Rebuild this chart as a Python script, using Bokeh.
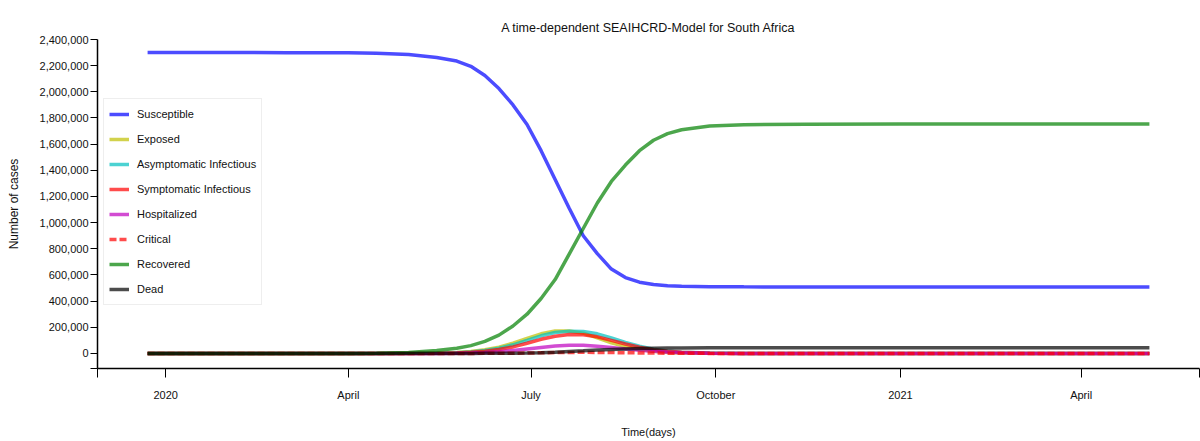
import pandas as pd
from bokeh.plotting import figure
from bokeh.models import Range1d, FixedTicker, NumeralTickFormatter
from bokeh.embed import file_html
from bokeh.resources import INLINE

# model output
dates = [
    "2019-12-23", "2020-02-01", "2020-03-01", "2020-04-01", "2020-04-15",
    "2020-05-01", "2020-05-15", "2020-05-25", "2020-06-01", "2020-06-08",
    "2020-06-15", "2020-06-22", "2020-06-29", "2020-07-06", "2020-07-13",
    "2020-07-20", "2020-07-27", "2020-08-03", "2020-08-10", "2020-08-17",
    "2020-08-24", "2020-08-31", "2020-09-07", "2020-09-14", "2020-09-28",
    "2020-10-15", "2020-11-15", "2021-01-01", "2021-03-01", "2021-05-05",
]
susceptible = [2300000, 2299900, 2299500, 2298000, 2295000, 2285000, 2262000, 2235000, 2195000, 2125000,
               2025000, 1900000, 1750000, 1550000, 1330000, 1110000, 900000, 763000, 645000, 580000,
               545000, 527000, 518000, 513000, 510000, 509000, 508000, 508000, 508000, 508000]
exposed = [0, 0, 0, 100, 500, 1000, 3000, 8000, 15000, 28000,
           48000, 78000, 115000, 150000, 172000, 172000, 155000, 120000, 82000, 52000,
           30000, 16000, 8000, 4000, 1000, 0, 0, 0, 0, 0]
asymptomatic = [0, 0, 0, 50, 300, 700, 2000, 5000, 12000, 22000,
                40000, 66000, 100000, 135000, 160000, 170000, 168000, 150000, 118000, 84000,
                55000, 33000, 19000, 10000, 3000, 500, 0, 0, 0, 0]
symptomatic = [0, 0, 0, 40, 200, 500, 1500, 4000, 9000, 17000,
               30000, 50000, 78000, 108000, 132000, 145000, 143000, 127000, 100000, 72000,
               47000, 28000, 16000, 9000, 2500, 500, 0, 0, 0, 0]
hospitalized = [0, 0, 0, 0, 100, 200, 600, 1500, 3500, 7000,
                13000, 22000, 34000, 46000, 57000, 63000, 62000, 56000, 46000, 35000,
                25000, 16000, 10000, 6000, 2000, 500, 0, 0, 0, 0]
critical = [0, 0, 0, 0, 0, 50, 150, 300, 500, 800,
            1000, 2000, 3500, 5000, 7000, 8000, 8500, 8000, 7000, 5500,
            4000, 3000, 2000, 1200, 500, 100, 0, 0, 0, 0]
recovered = [0, 0, 0, 200, 2000, 8000, 22000, 40000, 60000, 92000,
             140000, 210000, 300000, 420000, 565000, 760000, 955000, 1150000, 1315000, 1440000,
             1550000, 1630000, 1680000, 1710000, 1738000, 1748000, 1753000, 1755000, 1755000, 1755000]
dead = [0, 0, 0, 0, 0, 50, 150, 300, 500, 800,
        1000, 2000, 3500, 6000, 10000, 15000, 20000, 26000, 31000, 35000,
        38000, 40000, 41500, 42500, 43000, 43000, 43000, 43000, 43000, 43000]

tick_dates = ["2020-01-01", "2020-04-01", "2020-07-01", "2020-10-01", "2021-01-01", "2021-04-01"]
tick_labels = ["2020", "April", "July", "October", "2021", "April"]
y_ticks = list(range(0, 2400001, 200000))

series = [
    ("Susceptible", susceptible, "#0000ff", "solid"),
    ("Exposed", exposed, "#bfbf00", "solid"),
    ("Asymptomatic Infectious", asymptomatic, "#00bfbf", "solid"),
    ("Symptomatic Infectious", symptomatic, "#ff0000", "solid"),
    ("Hospitalized", hospitalized, "#bf00bf", "solid"),
    ("Critical", critical, "#ff0000", "7 3"),
    ("Recovered", recovered, "#008000", "solid"),
    ("Dead", dead, "#000000", "solid"),
]

def to_ms(d):
    return (pd.to_datetime(d) - pd.Timestamp("1970-01-01")) // pd.Timedelta("1ms")

x = [to_ms(d) for d in dates]
span = x[-1] - x[0]
x_start = x[0] - 0.05 * span
x_end = x[-1] + 0.05 * span
y_start = -0.05 * max(susceptible)
y_end = 2400000

font = "Liberation Sans"

p = figure(
    width=1200, height=441,
    title="A time-dependent SEAIHCRD-Model for South Africa",
    x_range=Range1d(x_start, x_end), y_range=Range1d(y_start, y_end),
    x_axis_label="Time(days)", y_axis_label="Number of cases",
    output_backend="svg", toolbar_location=None,
    min_border_left=97, min_border_right=1, min_border_top=39, min_border_bottom=73,
)
p.outline_line_color = None
p.grid.grid_line_color = None
p.title.align = "center"
p.title.text_font = font
p.title.text_font_size = "12.5px"
p.title.text_font_style = "normal"
p.title.text_color = "#111111"
p.title.offset = 0

for label, vals, color, dash in series:
    p.line(x, vals, line_width=3.5, color=color, line_alpha=0.7, line_dash=dash, legend_label=label)

tx = [to_ms(d) for d in tick_dates]
p.xaxis.ticker = FixedTicker(ticks=[x_start] + tx + [x_end])
overrides = {t: l for t, l in zip(tx, tick_labels)}
overrides[x_start] = ""
overrides[x_end] = ""
p.xaxis.major_label_overrides = overrides
p.yaxis.ticker = FixedTicker(ticks=[y_start] + y_ticks)
p.yaxis.formatter = NumeralTickFormatter(format="0,0")
p.yaxis.major_label_overrides = {y_start: ""}

for ax in (p.xaxis[0], p.yaxis[0]):
    ax.axis_line_color = "black"
    ax.axis_line_width = 1.5
    ax.major_tick_line_color = "black"
    ax.minor_tick_line_color = None
    ax.major_tick_in = 0
    ax.major_label_text_font = font
    ax.major_label_text_font_size = "11px"
    ax.major_label_text_color = "#111111"
    ax.axis_label_text_font = font
    ax.axis_label_text_font_style = "normal"
    ax.axis_label_text_color = "#111111"
p.xaxis.major_tick_out = 9
p.xaxis.major_label_standoff = 11
p.xaxis.axis_label_standoff = 22
p.xaxis.axis_label_text_font_size = "11px"
p.yaxis.major_tick_out = 7
p.yaxis.major_label_standoff = 2
p.yaxis.axis_label_standoff = 16
p.yaxis.axis_label_text_font_size = "12px"

lg = p.legend[0]
lg.location = (6, 63)
lg.margin = 0
lg.padding = 5
lg.spacing = 5
lg.glyph_width = 20
lg.glyph_height = 20
lg.label_height = 20
lg.label_width = 116
lg.label_standoff = 8
lg.label_text_font = font
lg.label_text_font_size = "11px"
lg.label_text_color = "#111111"
lg.border_line_color = "#dddddd"
lg.background_fill_alpha = 1.0

open("out.html", "w").write(file_html(p, INLINE))
